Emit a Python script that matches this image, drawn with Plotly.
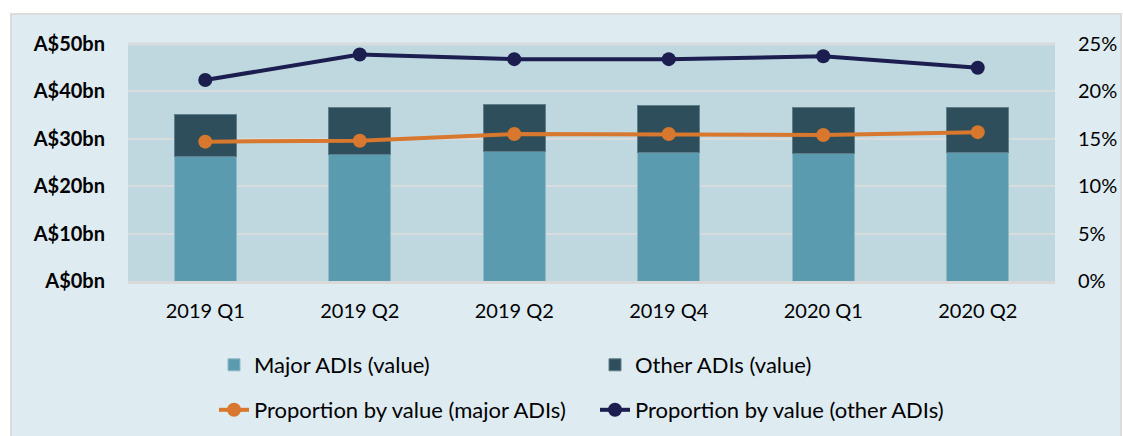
import plotly.graph_objects as go

categories = ["2019 Q1", "2019 Q2", "2019 Q2", "2019 Q4", "2020 Q1", "2020 Q2"]
major_value = [26.2, 26.6, 27.4, 27.2, 27.0, 27.2]
other_value = [9.0, 10.1, 9.9, 9.9, 9.7, 9.3]
major_prop = [14.7, 14.8, 15.5, 15.5, 15.4, 15.7]
other_prop = [21.2, 23.9, 23.4, 23.4, 23.7, 22.5]
left_ticks = [0, 10, 20, 30, 40, 50]
left_labels = ["A$0bn", "A$10bn", "A$20bn", "A$30bn", "A$40bn", "A$50bn"]
right_ticks = [0, 5, 10, 15, 20, 25]
right_labels = ["0%", "5%", "10%", "15%", "20%", "25%"]

x = list(range(len(categories)))
FONT = "Lato"

W, H = 1123, 436
PL, PR, PT, PB = 128, 1055, 44, 281  # plot area in window pixels
PW, PH = PR - PL, PB - PT


def px(wx):
    return (wx - PL) / PW


def py(wy):
    return (PB - wy) / PH


fig = go.Figure()
fig.add_trace(go.Bar(x=x, y=major_value, name="Major ADIs (value)",
                     marker=dict(color="#5a9bb0", line=dict(color="#8fb9c7", width=1)),
                     width=0.4, legend="legend"))
fig.add_trace(go.Bar(x=x, y=other_value, name="Other ADIs (value)",
                     marker=dict(color="#2d4e5a", line=dict(color="#5f7f8a", width=1)),
                     width=0.4, legend="legend"))
fig.add_trace(go.Scatter(x=x, y=major_prop, name="Proportion by value (major ADIs)",
                         mode="lines+markers", yaxis="y2",
                         line=dict(color="#d8772e", width=4),
                         marker=dict(size=14, color="#d8772e"), legend="legend2"))
fig.add_trace(go.Scatter(x=x, y=other_prop, name="Proportion by value (other ADIs)",
                         mode="lines+markers", yaxis="y2",
                         line=dict(color="#1b1e4e", width=4),
                         marker=dict(size=14, color="#1b1e4e"), legend="legend2"))

fig.update_layout(
    width=W, height=H,
    margin=dict(l=PL, r=W - PR, t=PT, b=H - PB, autoexpand=False),
    barmode="stack",
    paper_bgcolor="white",
    plot_bgcolor="#bfd8e0",
    font=dict(family=FONT, size=20, color="black"),
    xaxis=dict(range=[-0.5, 5.5], tickvals=x, ticktext=categories,
               showgrid=False, showline=True, linecolor="#d9d9d9", linewidth=3,
               ticks="", ticklabelstandoff=10, tickfont=dict(size=20),
               automargin=False),
    yaxis=dict(range=[0, 50], tickvals=left_ticks, ticktext=left_labels,
               gridcolor="#d9dcdd", gridwidth=2, zeroline=False,
               tickfont=dict(size=20, family=FONT, color="black", weight="bold"),
               ticklabelstandoff=22, automargin=False),
    yaxis2=dict(range=[0, 25], tickvals=right_ticks, ticktext=right_labels,
                overlaying="y", side="right", showgrid=False, zeroline=False,
                tickfont=dict(size=20), ticklabelstandoff=22, automargin=False),
    legend=dict(orientation="h", x=px(214), xanchor="left",
                y=py(365), yanchor="middle",
                entrywidth=336, entrywidthmode="pixels",
                bgcolor="rgba(0,0,0,0)", font=dict(size=22), traceorder="normal"),
    legend2=dict(orientation="h", x=px(214), xanchor="left",
                 y=py(410), yanchor="middle",
                 entrywidth=336, entrywidthmode="pixels",
                 bgcolor="rgba(0,0,0,0)", font=dict(size=22), traceorder="normal"),
    shapes=[dict(type="rect", xref="paper", yref="paper",
                 x0=px(11), x1=px(1121), y0=py(445), y1=py(14),
                 fillcolor="#deebf0", line=dict(color="#dcdcdc", width=2),
                 layer="below"),
            dict(type="rect", xref="paper", yref="paper",
                 x0=0, x1=1, y0=0, y1=1,
                 fillcolor="#bfd8e0", line=dict(width=0),
                 layer="below"),
            dict(type="line", xref="paper", yref="paper", x0=0, x1=1,
                 y0=1, y1=1, line=dict(color="#d9dcdd", width=3))],
)

fig.write_html(
    "out.html",
    config={"displayModeBar": False},
    post_script="document.body.style.margin='0';document.body.style.overflow='hidden';",
)
